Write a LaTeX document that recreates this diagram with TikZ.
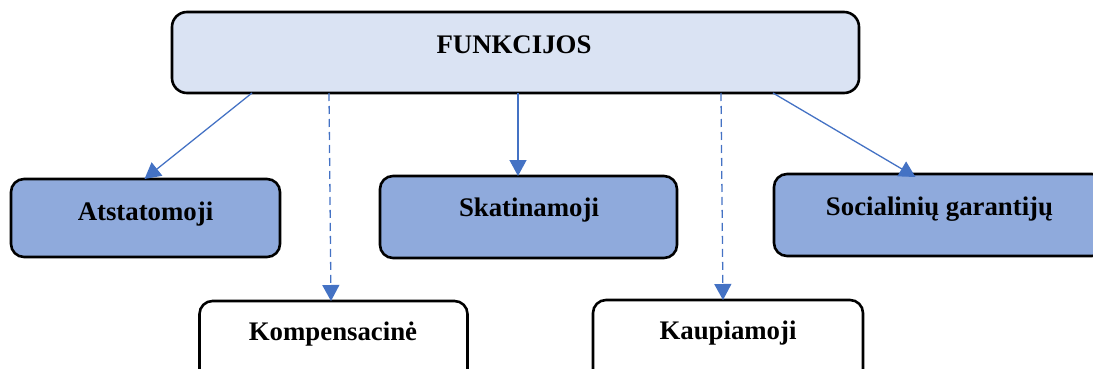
\documentclass[tikz,border=0pt]{standalone}
\usepackage{fontspec}
\setmainfont{Liberation Serif}
\usetikzlibrary{arrows.meta}
\definecolor{topfill}{HTML}{DAE3F3}
\definecolor{boxfill}{HTML}{8FAADC}
\definecolor{arrblue}{HTML}{4472C4}
\begin{document}
\begin{tikzpicture}[x=1pt,y=-1pt,
  box/.style={draw=black,line width=2.6pt,rounded corners=13pt,rectangle,inner sep=0pt,outer sep=0pt},
  lbl/.style={anchor=base,inner sep=0pt,font=\fontsize{26.8}{30}\selectfont\bfseries},
  arr/.style={draw=arrblue,line width=1.3pt,-{Triangle[width=17pt,length=16pt]}},
  darr/.style={arr,dash pattern=on 8pt off 5pt}]
\useasboundingbox (0,0) rectangle (1093,369);
\clip (0,0) rectangle (1093,369);
\node[box,fill=topfill,rounded corners=15pt,minimum width=687pt,minimum height=81pt] (top) at (515.5,52.5) {};
\node[box,fill=boxfill,minimum width=269pt,minimum height=78pt] (atst) at (145.5,218) {};
\node[box,fill=white,minimum width=268pt,minimum height=100pt] (komp) at (333.5,351) {};
\node[box,fill=boxfill,minimum width=297pt,minimum height=82pt] (skat) at (528.5,217) {};
\node[box,fill=white,minimum width=270pt,minimum height=100pt] (kaup) at (728,350) {};
\node[box,fill=boxfill,minimum width=331pt,minimum height=82pt] (soc) at (939.5,215) {};
\node[lbl] (ttop) at (514,54) {FUNKCIJOS};
\node[lbl] (tatst) at (145.5,220) {Atstatomoji};
\node[lbl] (tkomp) at (333,340) {Kompensacinė};
\node[lbl] (tskat) at (529,216) {Skatinamoji};
\node[lbl] (tkaup) at (728,339) {Kaupiamoji};
\node[lbl] (tsoc) at (939.5,215) {Socialinių garantijų};
\draw[arr] ([xshift=80pt]top.south west) -- ([xshift=-1pt]atst.north);
\draw[darr] ([xshift=157pt]top.south west) -- ([xshift=-2.5pt]komp.north);
\draw[arr] ([xshift=346pt]top.south west) -- ([xshift=-10.5pt]skat.north);
\draw[darr] ([xshift=549pt]top.south west) -- ([xshift=-5pt]kaup.north);
\draw[arr] ([xshift=601pt]top.south west) -- ([xshift=-24pt,yshift=-3pt]soc.north);
\end{tikzpicture}
\end{document}
